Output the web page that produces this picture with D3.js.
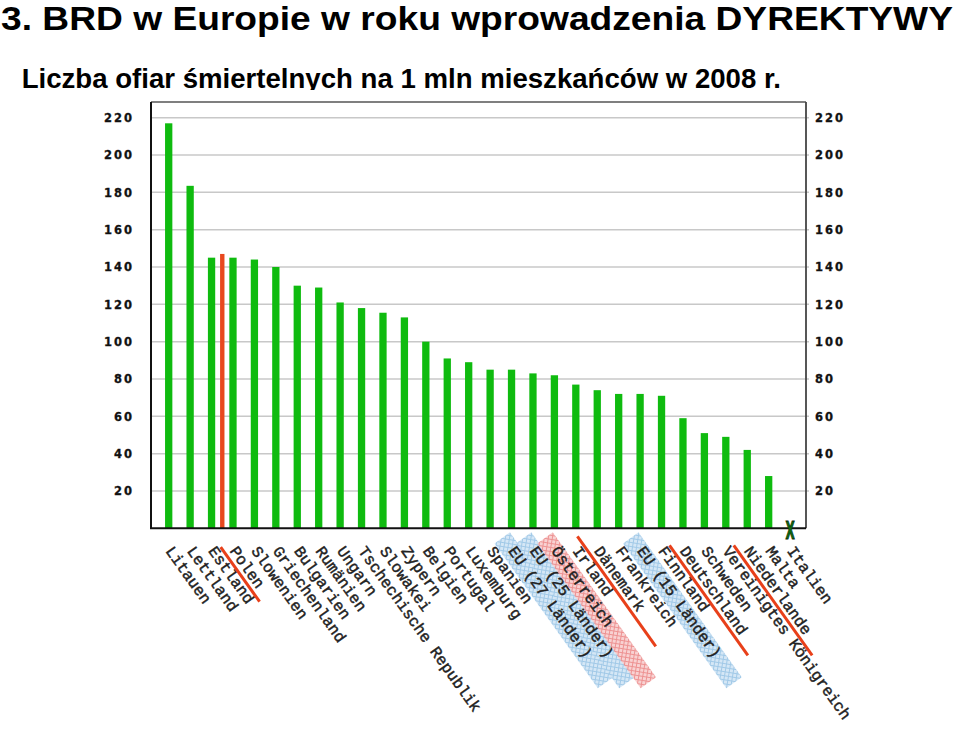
<!DOCTYPE html>
<html>
<head>
<meta charset="utf-8">
<script src="https://cdn.jsdelivr.net/npm/d3@7"></script>
<style>
  html, body { margin: 0; padding: 0; background: #fff; }
  svg { display: block; }
</style>
</head>
<body>
<svg id="chart" width="960" height="730"></svg>
<script>
// ---------------- DATA ----------------
const titleText = "3. BRD w Europie w roku wprowadzenia DYREKTYWY";
const subtitleText = "Liczba ofiar śmiertelnych na 1 mln mieszkańców w 2008 r.";

const categories = [
  "Litauen", "Lettland", "Estland", "Polen", "Slowenien", "Griechenland",
  "Bulgarien", "Rumänien", "Ungarn", "Tschechische Republik", "Slowakei",
  "Zypern", "Belgien", "Portugal", "Luxemburg", "Spanien", "EU (27 Länder)",
  "EU (25 Länder)", "Österreich", "Irland", "Dänemark", "Frankreich",
  "EU (15 Länder)", "Finnland", "Deutschland", "Schweden",
  "Vereinigtes Königreich", "Niederlande", "Malta", "Italien"
];
const values = [
  217, 183.5, 145, 145, 144, 140,
  130, 129, 121, 118, 115.5,
  113, 100, 91, 89, 85, 85,
  83, 82, 77, 74, 72,
  72, 71, 59, 51,
  49, 42, 28, null
];
const yTicks = [20, 40, 60, 80, 100, 120, 140, 160, 180, 200, 220];

// extra red bar (Polska) drawn between two categories
const highlightBetween = ["Estland", "Polen"];
const highlightValue = 147;

// hatched highlight bands behind labels
const blueBandLabels = ["EU (27 Länder)", "EU (25 Länder)", "EU (15 Länder)"];
const redBandLabels = ["Österreich"];

// red marker lines between pairs of labels
const strikePairs = [
  ["Estland", "Polen"],
  ["Irland", "Dänemark"],
  ["Finnland", "Deutschland"],
  ["Vereinigtes Königreich", "Niederlande"]
];

// ---------------- DRAWING ----------------
const svg = d3.select("#chart");
const plot = { left: 151, right: 806, top: 102, bottom: 528.3 };
const ANG = 54.5;

// titles
svg.append("text")
  .attr("x", 1).attr("y", 30)
  .attr("font-family", "'Liberation Sans', Arial, sans-serif")
  .attr("font-weight", "bold").attr("font-size", 33)
  .attr("textLength", 952).attr("lengthAdjust", "spacingAndGlyphs")
  .attr("fill", "#000")
  .text(titleText);

svg.append("text")
  .attr("x", 21.7).attr("y", 87.5)
  .attr("font-family", "'Liberation Sans', Arial, sans-serif")
  .attr("font-weight", "bold").attr("font-size", 27.6)
  .attr("fill", "#000")
  .text(subtitleText);

// chart image background (covers subtitle descenders)
svg.append("rect")
  .attr("x", 95).attr("y", 90).attr("width", 763).attr("height", 640)
  .attr("fill", "#fff");

// patterns
const defs = svg.append("defs");
function hatch(id, bg, line) {
  const p = defs.append("pattern")
    .attr("id", id).attr("patternUnits", "userSpaceOnUse")
    .attr("width", 4).attr("height", 4)
    .attr("patternTransform", "rotate(45)");
  p.append("rect").attr("width", 4).attr("height", 4).attr("fill", bg);
  p.append("path").attr("d", "M0,0.5H4M0.5,0V4")
    .attr("stroke", line).attr("stroke-width", 1).attr("fill", "none");
}
hatch("blueHatch", "#d3e6f5", "#9cc6e6");
hatch("redHatch", "#f8d0d0", "#ec8c8c");

const x = d3.scalePoint().domain(categories).range([168.7, 790.1]);
const y = d3.scaleLinear().domain([0, 220]).range([plot.bottom, 117.7]);

// grid lines
svg.append("g").selectAll("line").data(yTicks).join("line")
  .attr("x1", plot.left).attr("x2", plot.right + 3)
  .attr("y1", d => y(d)).attr("y2", d => y(d))
  .attr("stroke", "#c8c8c8").attr("stroke-width", 1.5);

// frame
svg.append("line").attr("x1", plot.left).attr("x2", plot.right)
  .attr("y1", plot.top).attr("y2", plot.top)
  .attr("stroke", "#555").attr("stroke-width", 1.5);
svg.append("line").attr("x1", plot.right).attr("x2", plot.right)
  .attr("y1", plot.top).attr("y2", plot.bottom)
  .attr("stroke", "#444").attr("stroke-width", 1.8);
svg.append("line").attr("x1", plot.left).attr("x2", plot.left)
  .attr("y1", plot.top).attr("y2", plot.bottom)
  .attr("stroke", "#111").attr("stroke-width", 2);

// y axis labels (both sides) via d3 axes
const tickFont = "'DejaVu Sans', Verdana, sans-serif";
const leftAxis = svg.append("g")
  .attr("transform", `translate(${plot.left},0)`)
  .call(d3.axisLeft(y).tickValues(yTicks).tickSize(0).tickPadding(17));
const rightAxis = svg.append("g")
  .attr("transform", `translate(${plot.right},0)`)
  .call(d3.axisRight(y).tickValues(yTicks).tickSize(0).tickPadding(9));
[leftAxis, rightAxis].forEach(g => {
  g.select(".domain").remove();
  g.selectAll("text")
    .attr("font-family", tickFont).attr("font-weight", "bold")
    .attr("font-size", 11.5).attr("letter-spacing", "2px")
    .attr("fill", "#111").attr("stroke", "#111").attr("stroke-width", 0.3);
});

// bars
const barW = 7.3;
svg.append("g").selectAll("rect")
  .data(categories.map((c, i) => ({ c, v: values[i] })).filter(d => d.v != null))
  .join("rect")
  .attr("x", d => x(d.c) - barW / 2)
  .attr("width", barW)
  .attr("y", d => y(d.v))
  .attr("height", d => y(0) - y(d.v))
  .attr("fill", "#0fbb0f");

// highlight red bar
const hx = (x(highlightBetween[0]) + x(highlightBetween[1])) / 2;
svg.append("rect")
  .attr("x", hx - 2.2).attr("width", 4.4)
  .attr("y", y(highlightValue)).attr("height", y(0) - y(highlightValue))
  .attr("fill", "#e8481e");

// bottom axis
svg.append("line").attr("x1", plot.left - 1).attr("x2", plot.right)
  .attr("y1", plot.bottom).attr("y2", plot.bottom)
  .attr("stroke", "#111").attr("stroke-width", 2);

// missing value marker
categories.forEach((c, i) => {
  if (values[i] == null) {
    svg.append("text")
      .attr("transform", `translate(${x(c)},538.5) scale(0.5,1)`)
      .attr("text-anchor", "middle")
      .attr("font-family", tickFont).attr("font-weight", "bold")
      .attr("font-size", 24)
      .attr("fill", "#0d6a0d").attr("stroke", "#0a260a").attr("stroke-width", 1)
      .text("X");
  }
});

// category labels with bands
const labelG = svg.append("g");
const lab = labelG.selectAll("g").data(categories).join("g")
  .attr("transform", d => `translate(${x(d) - 3.7},551) rotate(${ANG})`);

lab.filter(d => blueBandLabels.includes(d) || redBandLabels.includes(d))
  .append("rect")
  .attr("x", -14).attr("y", -12.5).attr("width", 178).attr("height", 19)
  .attr("fill", d => redBandLabels.includes(d) ? "url(#redHatch)" : "url(#blueHatch)")
  .attr("opacity", 0.95);

lab.append("text")
  .attr("x", 0).attr("y", 0)
  .attr("font-family", "'Liberation Mono', 'Courier New', monospace")
  .attr("font-size", 15.8)
  .attr("fill", "#222").attr("stroke", "#222").attr("stroke-width", 0.45)
  .text(d => d);

// red marker lines between label pairs
const strikeStart = [-2, -15, -4, -4];
const strikeLen = [67, 135, 135, 135];
strikePairs.forEach((p, i) => {
  const mx = (x(p[0]) + x(p[1])) / 2 - 3.7;
  svg.append("line")
    .attr("transform", `translate(${mx},551) rotate(${ANG})`)
    .attr("x1", strikeStart[i]).attr("x2", strikeStart[i] + strikeLen[i])
    .attr("y1", -4).attr("y2", -4)
    .attr("stroke", "#e8401a").attr("stroke-width", 3);
});
</script>
</body>
</html>
